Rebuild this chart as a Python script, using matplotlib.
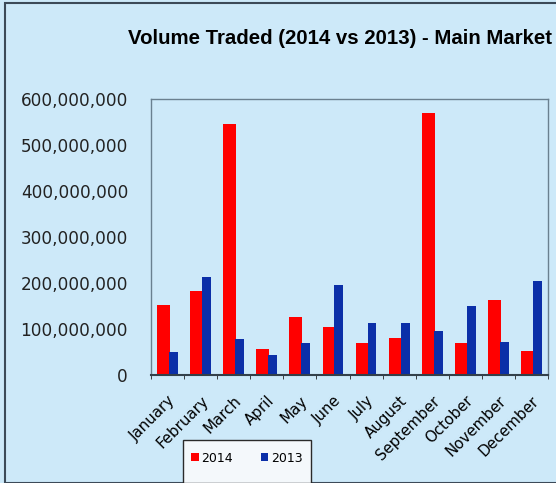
import matplotlib.pyplot as plt
import numpy as np
from matplotlib.patches import Rectangle
from matplotlib.ticker import FuncFormatter

months = ['January', 'February', 'March', 'April', 'May', 'June', 'July',
          'August', 'September', 'October', 'November', 'December']
vol_2014 = [153e6, 182e6, 546e6, 56e6, 126e6, 105e6, 69e6, 81e6, 570e6, 69e6, 162e6, 53e6]
vol_2013 = [51e6, 212e6, 79e6, 44e6, 69e6, 195e6, 113e6, 113e6, 95e6, 151e6, 71e6, 204e6]
series_labels = ['2014', '2013']

bg = '#cde9f9'
red = '#ff0000'
blue = '#0b2fa8'

W, H = 556, 483
fig = plt.figure(figsize=(W / 100, H / 100), dpi=100, facecolor=bg)

# outer frame of the chart
fig.patches.append(Rectangle((5 / W, 0), 1.2, (H - 3) / H, transform=fig.transFigure,
                             facecolor='none', edgecolor='#3c4a58', linewidth=1.5))

ax = fig.add_axes([151 / W, 108 / H, 397 / W, 276 / H])
ax.set_facecolor(bg)

x = np.arange(len(months))
ax.bar(x - 0.12, vol_2014, width=0.39, color=red, label=series_labels[0])
ax.bar(x + 0.18, vol_2013, width=0.27, color=blue, label=series_labels[1])

ax.set_xlim(-0.5, 11.5)
ax.set_ylim(0, 600e6)
ax.set_yticks(np.arange(0, 600e6 + 1, 100e6))
ax.yaxis.set_major_formatter(FuncFormatter(lambda v, p: f'{int(v):,}'))
ax.tick_params(axis='y', length=0, pad=16.5, labelsize=12.2, labelcolor='#222222')

ax.set_xticks(x)
ax.set_xticklabels(months, rotation=45, ha='right', rotation_mode='anchor', fontsize=10.8)
ax.set_xticks(np.arange(-0.5, 12, 1), minor=True)
ax.tick_params(axis='x', which='major', length=0, pad=13)
ax.tick_params(axis='x', which='minor', length=3, color='#222222')

for side in ['top', 'left', 'right']:
    ax.spines[side].set_color('#6a8090')
    ax.spines[side].set_linewidth(1)
ax.spines['bottom'].set_color('#33404a')
ax.spines['bottom'].set_linewidth(1.5)

fig.text(128 / W, 1 - 38 / H, 'Volume Traded (2014 vs 2013) - Main Market',
         fontsize=14.7, fontweight='bold', family='Liberation Sans', va='center', ha='left')

# legend box
fig.patches.append(Rectangle((183 / W, 0), 128 / W, 43 / H, transform=fig.transFigure,
                             facecolor='#f4f8fb', edgecolor='#2a2a2a', linewidth=1))
handles, labels = ax.get_legend_handles_labels()
fig.legend(handles, labels, loc='center', bbox_to_anchor=(247 / W, 1 - 458 / H), ncol=2,
           frameon=False, fontsize=9, handlelength=0.6, handleheight=0.6,
           handletextpad=0.25, columnspacing=2.2)

fig.savefig('out.png', dpi=100, facecolor=bg)
